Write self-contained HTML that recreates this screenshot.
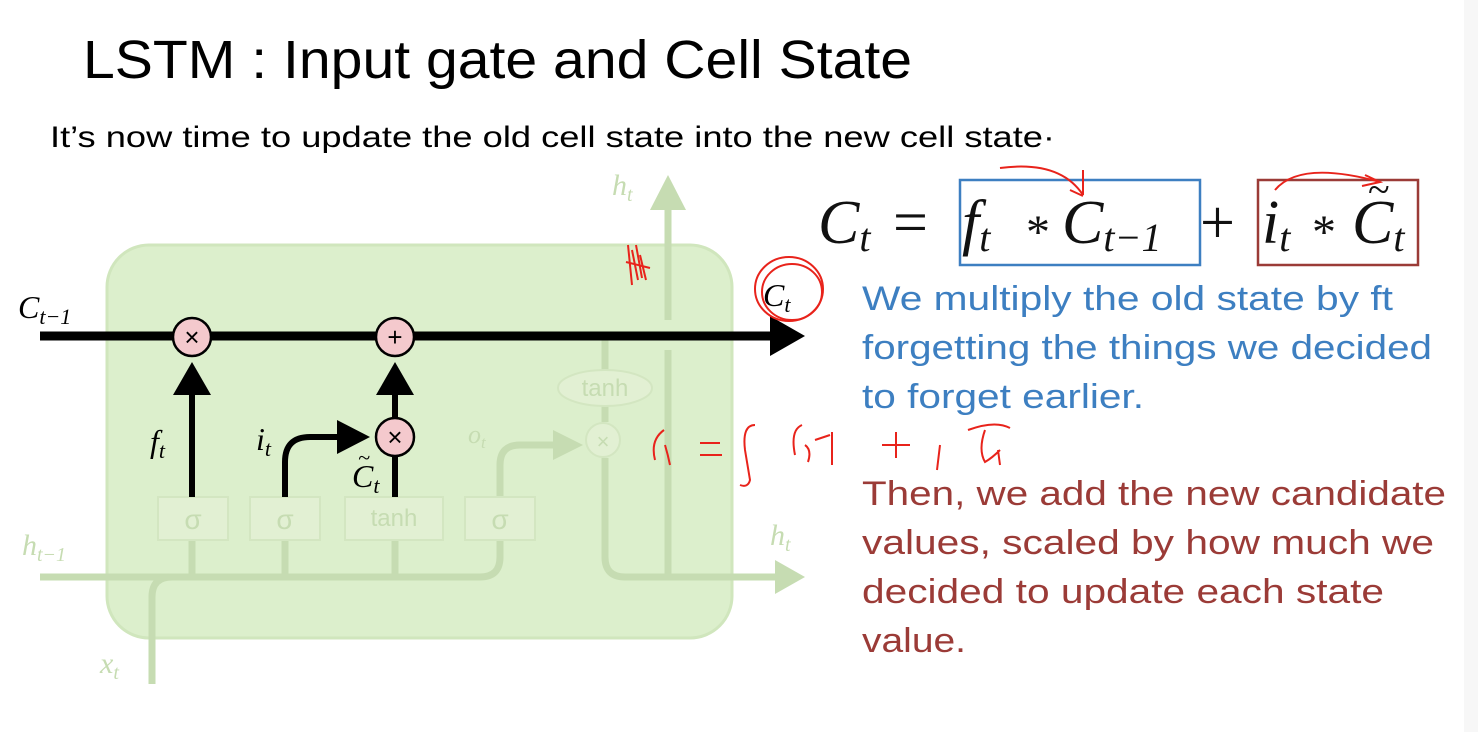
<!DOCTYPE html>
<html><head><meta charset="utf-8"><style>
html,body{margin:0;padding:0;background:#fff;width:1478px;height:732px;overflow:hidden}
svg{display:block}
text{font-family:"Liberation Sans",sans-serif}
.m text,.serif text{font-family:"Liberation Serif",serif}
.m text{font-style:italic}
</style></head><body>
<svg width="1478" height="732" viewBox="0 0 1478 732">
<rect x="1464" y="0" width="14" height="732" fill="#f7f7f7"/>
<text x="83" y="78" font-size="54" textLength="829" lengthAdjust="spacingAndGlyphs" fill="#000">LSTM : Input gate and Cell State</text>
<text x="50" y="147" font-size="30" textLength="1005" lengthAdjust="spacingAndGlyphs" fill="#000">It’s now time to update the old cell state into the new cell state·</text>

<g>
<rect x="107" y="245" width="625" height="393" rx="42" fill="#dcefcc" stroke="#d0e6bd" stroke-width="3"/>
<g stroke="#c6dcb2" stroke-width="7" fill="none">
<path d="M40 577 H480 Q500 577 500 557 V540"/>
<path d="M152 684 V597 Q152 577 172 577"/>
<line x1="192" y1="577" x2="192" y2="540"/><line x1="285" y1="577" x2="285" y2="540"/><line x1="395" y1="577" x2="395" y2="540"/>
<path d="M500 497 V465 Q500 445 520 445 H560"/>
<path d="M605 340 V370"/><path d="M605 406 V422"/><path d="M605 458 V557 Q605 577 625 577 H775"/>
<path d="M668 577 V350"/><path d="M668 320 V205"/>
</g>
<polygon points="775,560 805,577 775,594" fill="#c6dcb2"/>
<polygon points="650,210 668,175 686,210" fill="#c6dcb2"/>
<polygon points="553,430 583,445 553,460" fill="#c6dcb2"/>
<g fill="#e2f0d3" stroke="#d3e6c1" stroke-width="2">
<rect x="158" y="497" width="70" height="43"/><rect x="250" y="497" width="70" height="43"/><rect x="345" y="497" width="98" height="43"/><rect x="465" y="497" width="70" height="43"/>
<ellipse cx="605" cy="388" rx="47" ry="18"/><circle cx="603" cy="440" r="17"/>
</g>
<g fill="#c6dcb2" font-size="28" text-anchor="middle">
<text x="193" y="529">σ</text><text x="285" y="529">σ</text><text x="394" y="526" font-size="24">tanh</text><text x="500" y="529">σ</text>
<text x="605" y="396" font-size="24">tanh</text><text x="603" y="449" font-size="22">×</text>
</g>
<g class="m" fill="#c6dcb2" font-size="30">
<text x="612" y="195">h<tspan font-size="20" dy="6">t</tspan></text>
<text x="770" y="545">h<tspan font-size="20" dy="6">t</tspan></text>
<text x="22" y="555">h<tspan font-size="20" dy="6">t−1</tspan></text>
<text x="100" y="673">x<tspan font-size="20" dy="6">t</tspan></text>
<text x="468" y="443" font-size="26">o<tspan font-size="17" dy="5">t</tspan></text>
</g>
<line x1="40" y1="336" x2="780" y2="336" stroke="#000" stroke-width="9"/>
<polygon points="770,316 805,336 770,356" fill="#000"/>
<g stroke="#000" stroke-width="6" fill="none">
<line x1="192" y1="497" x2="192" y2="392"/><line x1="395" y1="497" x2="395" y2="455"/><line x1="395" y1="420" x2="395" y2="392"/>
<path d="M285 497 V462 Q285 437 310 437 H340"/>
</g>
<polygon points="173,395 192,362 211,395" fill="#000"/>
<polygon points="376,395 395,362 414,395" fill="#000"/>
<polygon points="337,420 370,437 337,454" fill="#000"/>
<g fill="#f4c9cd" stroke="#000" stroke-width="2.5">
<circle cx="192" cy="337" r="19"/><circle cx="395" cy="337" r="19"/><circle cx="395" cy="437" r="19"/>
</g>
<g font-size="26" text-anchor="middle" fill="#000"><text x="192" y="346">×</text><text x="395" y="346">+</text><text x="395" y="446">×</text></g>
<g class="m" fill="#000" font-size="32">
<text x="18" y="318">C<tspan font-size="22" dy="6">t−1</tspan></text>
<text x="150" y="452">f<tspan font-size="22" dy="6">t</tspan></text>
<text x="256" y="450">i<tspan font-size="22" dy="6">t</tspan></text>
<text x="352" y="487">C<tspan font-size="22" dy="6">t</tspan></text>
<text x="358" y="465" font-size="22">~</text>
<text x="763" y="306">C<tspan font-size="22" dy="6">t</tspan></text>
</g>
</g>

<g>
<rect x="960" y="180" width="240" height="85" fill="none" stroke="#3d7fc1" stroke-width="2.5"/>
<rect x="1258" y="180" width="160" height="85" fill="none" stroke="#9b3b37" stroke-width="2.5"/>
<g class="serif" font-size="62" fill="#111">
<text x="818" y="243" font-style="italic">C<tspan font-size="40" dy="8">t</tspan></text>
<text x="893" y="243">=</text>
<text x="962" y="243" font-style="italic">f<tspan font-size="40" dy="8">t</tspan></text>
<text x="1026" y="248" font-size="48">*</text>
<text x="1062" y="243" font-style="italic">C<tspan font-size="40" dy="8">t−1</tspan></text>
<text x="1200" y="243">+</text>
<text x="1262" y="243" font-style="italic">i<tspan font-size="40" dy="8">t</tspan></text>
<text x="1312" y="248" font-size="48">*</text>
<text x="1352" y="243" font-style="italic">C<tspan font-size="40" dy="8">t</tspan></text>
<text x="1368" y="203" font-size="40">~</text>
</g>
</g>

<g font-size="34" fill="#3d7fc1">
<text x="862" y="310" textLength="531" lengthAdjust="spacingAndGlyphs">We multiply the old state by ft</text>
<text x="862" y="359" textLength="570" lengthAdjust="spacingAndGlyphs">forgetting the things we decided</text>
<text x="862" y="408" textLength="282" lengthAdjust="spacingAndGlyphs">to forget earlier.</text>
</g>
<g font-size="34" fill="#9b3b37">
<text x="862" y="505" textLength="584" lengthAdjust="spacingAndGlyphs">Then, we add the new candidate</text>
<text x="862" y="554" textLength="572" lengthAdjust="spacingAndGlyphs">values, scaled by how much we</text>
<text x="862" y="603" textLength="522" lengthAdjust="spacingAndGlyphs">decided to update each state</text>
<text x="862" y="652" textLength="104" lengthAdjust="spacingAndGlyphs">value.</text>
</g>

<g fill="none" stroke="#e8231b" stroke-width="2">
<path d="M1000 168 Q1060 160 1083 195 M1083 170 V195 M1070 190 L1083 196"/>
<path d="M1275 190 Q1300 160 1380 182 M1365 175 L1380 182 L1362 186"/>
<ellipse cx="789" cy="289" rx="34" ry="32"/><ellipse cx="792" cy="292" rx="30" ry="28"/>
<path d="M628 245 L632 285 M632 250 L638 280 M636 245 L642 278 M626 262 L650 268 M640 255 L646 280"/>
<path d="M664 430 Q650 440 655 460 M665 445 Q668 455 670 465 M700 443 H720 M700 455 H722 M755 425 Q742 425 745 450 L750 480 Q748 488 740 485 M802 425 Q790 430 795 455 M805 445 Q812 450 808 462 M815 440 L830 435 M832 432 V465 M882 445 H910 M896 432 V458 M940 445 L937 470 M968 430 Q995 420 1010 428 M985 430 Q978 450 985 462 Q992 458 1000 450 M998 450 L1000 465"/>
</g>
</svg>
</body></html>
